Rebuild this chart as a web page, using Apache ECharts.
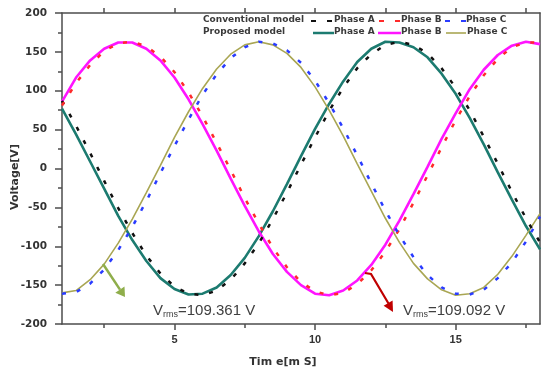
<!DOCTYPE html>
<html><head><meta charset="utf-8">
<script src="https://cdn.jsdelivr.net/npm/echarts@6/dist/echarts.min.js"></script>
<style>html,body{margin:0;padding:0;background:#fff}#c{width:550px;height:376px}</style>
</head><body><div id="c"></div>
<script>
// time axis [ms]
const time = [1,1.5,2,2.5,3,3.5,4,4.5,5,5.5,6,6.5,7,7.5,8,8.5,9,9.5,10,10.5,11,11.5,12,12.5,13,13.5,14,14.5,15,15.5,16,16.5,17,17.5,18];
// Proposed model (solid)
const propA = [77,44,9,-26,-61,-92,-119,-141,-155,-162,-161,-153,-137,-115,-87,-55,-20,16,51,83,112,137,154,163,162,156,143,122,96,65,31,-5,-40,-74,-104];
const propB = [86,117,139,154,162,162,154,139,117,89,57,23,-13,-48,-81,-110,-133,-150,-161,-163,-157,-144,-124,-98,-67,-33,2,38,71,102,127,146,158,163,160];
const propC = [-160,-157,-143,-123,-96,-65,-31,4,40,73,103,128,147,159,163,159,148,130,105,75,42,6,-29,-64,-95,-122,-142,-156,-163,-161,-153,-136,-113,-86,-58];
// Conventional model (dashed)
const convA = [87,55,20,-16,-51,-83,-112,-135,-152,-161,-163,-157,-143,-122,-96,-65,-31,5,40,74,104,129,147,159,163,159,148,129,104,75,41,6,-30,-64,-95];
const convB = [81,110,133,151,161,163,157,144,124,98,67,33,-2,-38,-71,-102,-127,-146,-158,-163,-160,-149,-131,-107,-78,-44,-9,27,62,93,120,141,156,162,162];
const convC = [-161,-159,-148,-130,-105,-75,-42,-6,29,63,95,121,142,156,163,161,152,136,113,84,52,17,-19,-54,-86,-114,-137,-153,-161,-162,-156,-141,-121,-94,-62];
// tick values
const xLabelTicks = [5,10,15];
const xMinorTicks = [2.5,7.5,12.5,17.5];
const xTopTicks = [2.5,5,7.5,10,12.5,15,17.5];
const rmsLeft = '109.361';
const rmsRight = '109.092';

const pts = arr => time.map((t,i)=>[t, arr[i]]);
const AX = '#4d4d4d';
const chart = echarts.init(document.getElementById('c'));
const lbl = {color:'#333', fontWeight:'bold', fontSize:11};
const legendTxt = (x,y,t)=>({type:'text', left:x, top:y-6, z:100, style:{text:t, fill:'#3a3a3a', font:'bold 9px "DejaVu Sans"'}});
const seg = (x1,x2,y,c,w)=>({type:'line', z:100, shape:{x1:x1,y1:y,x2:x2,y2:y}, style:{stroke:c, lineWidth:w}});
const solid = (name, arr, color, w)=>({name, type:'line', data:pts(arr), symbol:'none', showSymbol:false, lineStyle:{color, width:w}, itemStyle:{color}, z:3});
const dashed = (name, arr, color)=>({name, type:'line', data:pts(arr), symbol:'none', showSymbol:false, lineStyle:{color, width:2.5, type:[4,11]}, itemStyle:{color}, z:4});
const rich = {a:{fontSize:15, fontFamily:'Liberation Sans', fill:'#404040', lineHeight:18}, b:{fontSize:9, fontFamily:'Liberation Sans', fill:'#404040', verticalAlign:'bottom', lineHeight:18}};

chart.setOption({
  animation:false,
  backgroundColor:'#fff',
  grid:{left:62, right:10, top:13, bottom:52, containLabel:false, outerBoundsMode:'none'},
  xAxis:[
    {type:'value', min:1, max:18, position:'bottom',
     axisLine:{show:true, onZero:false, lineStyle:{color:AX, width:1.5}},
     axisTick:{show:true, inside:false, length:6, customValues:xLabelTicks, lineStyle:{color:AX, width:1.5}},
     axisLabel:{show:true, customValues:xLabelTicks, margin:10, fontFamily:'Liberation Sans', ...lbl},
     splitLine:{show:false}},
    {type:'value', min:1, max:18, position:'bottom',
     axisLine:{show:false, onZero:false},
     axisTick:{show:true, inside:false, length:4, customValues:xMinorTicks, lineStyle:{color:AX, width:1.5}},
     axisLabel:{show:false}, splitLine:{show:false}},
    {type:'value', min:1, max:18, position:'top',
     axisLine:{show:true, onZero:false, lineStyle:{color:AX, width:1.5}},
     axisTick:{show:true, inside:false, length:5, customValues:xTopTicks, lineStyle:{color:AX, width:1.5}},
     axisLabel:{show:false}, splitLine:{show:false}}
  ],
  yAxis:[
    {type:'value', min:-200, max:200, interval:50, position:'left',
     axisLine:{show:true, onZero:false, lineStyle:{color:AX, width:1.5}},
     axisTick:{show:true, inside:false, length:7, lineStyle:{color:AX, width:1.5}},
     minorTick:{show:true, splitNumber:2, length:4, lineStyle:{color:AX, width:1.5}},
     axisLabel:{margin:15, fontFamily:'DejaVu Sans', ...lbl, fontSize:10.5},
     splitLine:{show:false}, minorSplitLine:{show:false}},
    {type:'value', min:-200, max:200, interval:50, position:'right',
     axisLine:{show:true, onZero:false, lineStyle:{color:AX, width:1.5}},
     axisTick:{show:false}, axisLabel:{show:false}, splitLine:{show:false}}
  ],
  series:[
    solid('Proposed Phase A', propA, '#1c7b70', 2.6),
    solid('Proposed Phase B', propB, '#ff14ff', 2.6),
    solid('Proposed Phase C', propC, '#a9a653', 1.6),
    dashed('Conventional Phase A', convA, '#111111'),
    dashed('Conventional Phase B', convB, '#ff2a2a'),
    dashed('Conventional Phase C', convC, '#2a3cff')
  ],
  graphic:[
    // axis titles
    {type:'text', x:15, y:177, rotation:Math.PI/2, z:100, style:{text:'Voltage[V]', fill:'#333', font:'bold 11px "DejaVu Sans"', align:'center', verticalAlign:'middle'}},
    {type:'text', x:283, y:362, z:100, style:{text:'Tim e[m S]', fill:'#333', font:'bold 11px "DejaVu Sans"', align:'center', verticalAlign:'middle'}},
    // legend row 1
    legendTxt(203,21,'Conventional model'),
    {type:'line', z:100, shape:{x1:311,y1:21,x2:333,y2:21}, style:{stroke:'#111', lineWidth:2, lineDash:[5,11]}},
    legendTxt(334,21,'Phase A'),
    {type:'line', z:100, shape:{x1:379,y1:21,x2:400,y2:21}, style:{stroke:'#ff2a2a', lineWidth:2, lineDash:[5,11]}},
    legendTxt(401,21,'Phase B'),
    {type:'line', z:100, shape:{x1:445,y1:21,x2:466,y2:21}, style:{stroke:'#2a3cff', lineWidth:2, lineDash:[5,11]}},
    legendTxt(466,21,'Phase C'),
    // legend row 2
    legendTxt(203,33,'Proposed model'),
    seg(313,334,33,'#1c7b70',2.5),
    legendTxt(334,33,'Phase A'),
    seg(378,401,33,'#ff14ff',2.5),
    legendTxt(401,33,'Phase B'),
    seg(446,466,33,'#a9a653',1.6),
    legendTxt(467,33,'Phase C'),
    // green arrow
    {type:'line', z:100, shape:{x1:103,y1:264,x2:120,y2:289.6}, style:{stroke:'#8fae4b', lineWidth:2.5}},
    {type:'polygon', z:100, shape:{points:[[125,297],[124.5,286.5],[115.3,292.7]]}, style:{fill:'#8fae4b'}},
    // red arrow
    {type:'polyline', z:100, shape:{points:[[365,273],[371,274],[388.5,303.5]]}, style:{stroke:'#c00000', lineWidth:2.2, fill:null}},
    {type:'polygon', z:100, shape:{points:[[393,312],[392.6,300.6],[383.6,305.8]]}, style:{fill:'#c00000'}},
    // Vrms texts
    {type:'text', left:153, top:303, z:100, style:{text:'{a|V}{b|rms}{a|='+rmsLeft+' V}', rich}},
    {type:'text', left:403, top:303, z:100, style:{text:'{a|V}{b|rms}{a|='+rmsRight+' V}', rich}}
  ]
});
</script></body></html>
